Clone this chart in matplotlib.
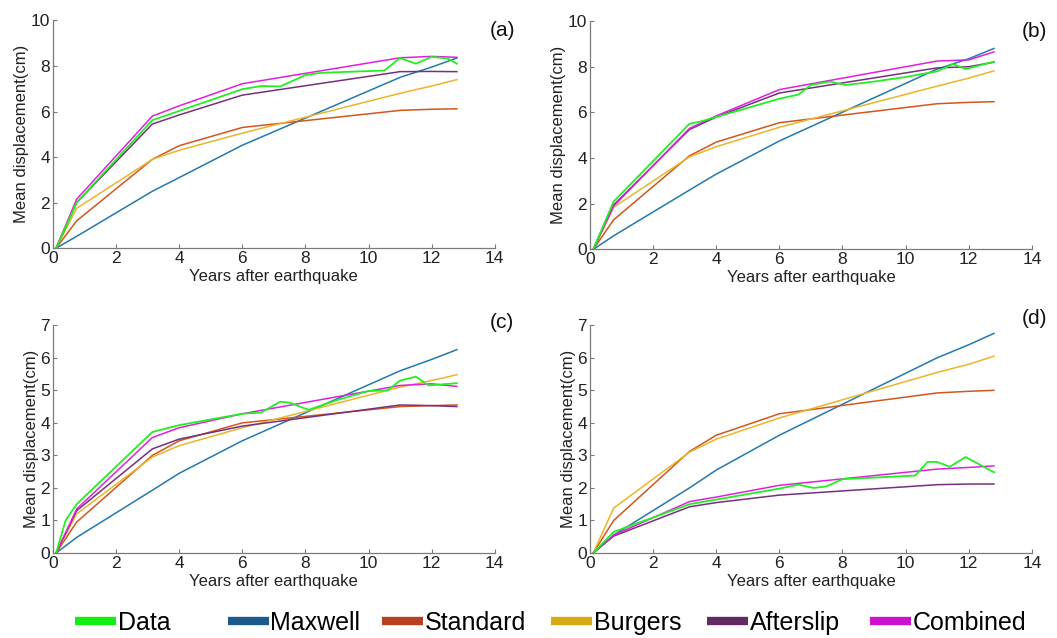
import matplotlib
matplotlib.use("Agg")
import matplotlib.pyplot as plt
from matplotlib.lines import Line2D

plt.rcParams['font.family'] = ['Liberation Sans', 'DejaVu Sans']

# Model evaluation epochs (years after the earthquake)
t_model = [0.1, 0.75, 3.15, 4.0, 6.0, 11.0, 12.0, 12.8]

series_names = ["Data", "Maxwell", "Standard", "Burgers", "Afterslip", "Combined"]
line_colors = {
    "Data": "#22ee22",
    "Maxwell": "#2378b0",
    "Standard": "#d2561f",
    "Burgers": "#eab52a",
    "Afterslip": "#77307f",
    "Combined": "#e020e0",
}
legend_colors = {
    "Data": "#11ee11",
    "Maxwell": "#1c5a8c",
    "Standard": "#b8401f",
    "Burgers": "#d6aa12",
    "Afterslip": "#612a62",
    "Combined": "#cc12cc",
}

# ---- panel (a) ----
a_data_t = [0.1, 0.75, 3.15, 6.0, 6.6, 7.2, 8.0, 8.5, 10.5, 11.0, 11.5, 12.0, 12.5, 12.8]
a_data = [0.0, 2.0, 5.62, 6.98, 7.12, 7.1, 7.6, 7.7, 7.8, 8.35, 8.1, 8.4, 8.33, 8.1]
a_maxwell = [0.0, 0.52, 2.5, 3.1, 4.52, 7.5, 7.95, 8.35]
a_standard = [0.0, 1.2, 3.9, 4.5, 5.3, 6.05, 6.1, 6.12]
a_burgers = [0.0, 1.75, 3.9, 4.3, 5.05, 6.8, 7.12, 7.4]
a_afterslip = [0.0, 2.0, 5.45, 5.85, 6.72, 7.75, 7.76, 7.75]
a_combined = [0.0, 2.15, 5.8, 6.25, 7.22, 8.36, 8.42, 8.38]

# ---- panel (b) ----
b_data_t = [0.1, 0.75, 3.15, 3.5, 6.0, 6.6, 7.0, 7.6, 8.1, 9.0, 10.0, 11.0, 11.5, 11.9, 12.8]
b_data = [0.0, 2.1, 5.5, 5.6, 6.6, 6.78, 7.2, 7.35, 7.2, 7.35, 7.55, 7.8, 8.12, 7.9, 8.22]
b_maxwell = [0.0, 0.6, 2.6, 3.3, 4.75, 7.9, 8.35, 8.8]
b_standard = [0.0, 1.3, 4.1, 4.7, 5.55, 6.38, 6.44, 6.47]
b_burgers = [0.0, 1.85, 4.05, 4.5, 5.35, 7.15, 7.5, 7.82]
b_afterslip = [0.0, 1.95, 5.25, 5.8, 6.85, 7.95, 8.0, 8.2]
b_combined = [0.0, 1.9, 5.3, 5.85, 7.0, 8.25, 8.3, 8.65]

# ---- panel (c) ----
c_data_t = [0.1, 0.4, 0.75, 3.15, 4.0, 6.0, 6.6, 7.2, 7.5, 8.1, 9.0, 10.0, 10.6, 11.0, 11.5, 11.9, 12.8]
c_data = [0.0, 1.0, 1.5, 3.72, 3.93, 4.28, 4.32, 4.65, 4.62, 4.4, 4.7, 4.98, 5.0, 5.3, 5.42, 5.15, 5.22]
c_maxwell = [0.0, 0.48, 1.93, 2.45, 3.45, 5.6, 5.95, 6.25]
c_standard = [0.0, 0.95, 3.0, 3.45, 4.0, 4.5, 4.53, 4.55]
c_burgers = [0.0, 1.2, 2.95, 3.3, 3.85, 5.1, 5.3, 5.48]
c_afterslip = [0.0, 1.3, 3.2, 3.5, 3.9, 4.55, 4.53, 4.5]
c_combined = [0.0, 1.35, 3.55, 3.85, 4.28, 5.15, 5.2, 5.12]

# ---- panel (d) ----
d_data_t = [0.1, 0.75, 3.15, 6.0, 6.6, 7.1, 7.5, 8.0, 10.3, 10.7, 11.0, 11.4, 11.9, 12.8]
d_data = [0.0, 0.65, 1.5, 1.98, 2.1, 2.0, 2.05, 2.27, 2.38, 2.8, 2.8, 2.65, 2.95, 2.48]
d_maxwell = [0.0, 0.55, 2.0, 2.55, 3.62, 6.0, 6.4, 6.75]
d_standard = [0.0, 1.0, 3.12, 3.62, 4.28, 4.92, 4.97, 5.0]
d_burgers = [0.0, 1.38, 3.1, 3.5, 4.15, 5.55, 5.8, 6.05]
d_afterslip = [0.0, 0.52, 1.42, 1.55, 1.78, 2.1, 2.12, 2.12]
d_combined = [0.0, 0.55, 1.58, 1.72, 2.08, 2.58, 2.63, 2.68]

panels = [
    ("(a)", 10, a_data_t, a_data, a_maxwell, a_standard, a_burgers, a_afterslip, a_combined),
    ("(b)", 10, b_data_t, b_data, b_maxwell, b_standard, b_burgers, b_afterslip, b_combined),
    ("(c)", 7, c_data_t, c_data, c_maxwell, c_standard, c_burgers, c_afterslip, c_combined),
    ("(d)", 7, d_data_t, d_data, d_maxwell, d_standard, d_burgers, d_afterslip, d_combined),
]

x_ticks = [0, 2, 4, 6, 8, 10, 12, 14]

fig = plt.figure(figsize=(10.57, 6.38), dpi=100)
axes_rects = [
    [0.0501, 0.611, 0.418, 0.357],
    [0.5582, 0.609, 0.418, 0.358],
    [0.0501, 0.1332, 0.418, 0.357],
    [0.5582, 0.1332, 0.418, 0.357],
]
# panel tag positions in axes fraction
tag_pos = [(1.018, 0.955), (1.005, 0.955), (1.015, 1.01), (1.005, 1.03)]

spine_gray = "#7a7a7a"
for rect, tp, (label, ymax, dt, dv, mx, st, bu, af, co) in zip(axes_rects, tag_pos, panels):
    ax = fig.add_axes(rect)
    ax.plot(t_model, mx, color=line_colors["Maxwell"], lw=1.1)
    ax.plot(t_model, st, color=line_colors["Standard"], lw=1.1)
    ax.plot(t_model, bu, color=line_colors["Burgers"], lw=1.1)
    ax.plot(t_model, af, color=line_colors["Afterslip"], lw=1.1)
    ax.plot(t_model, co, color=line_colors["Combined"], lw=1.1)
    ax.plot(dt, dv, color=line_colors["Data"], lw=1.3)

    ax.set_xlim(0, 14)
    ax.set_ylim(0, ymax)
    ax.set_xticks(x_ticks)
    ax.set_yticks(range(0, ymax + 1, 2 if ymax == 10 else 1))
    for s in ("top", "right"):
        ax.spines[s].set_visible(False)
    for s in ("left", "bottom"):
        ax.spines[s].set_color(spine_gray)
        ax.spines[s].set_linewidth(0.9)
    ax.tick_params(direction="in", length=3, width=0.8, color=spine_gray,
                   labelsize=12.5, labelcolor="#222222", pad=2)
    ax.set_xlabel("Years after earthquake", fontsize=12, color="#222222", labelpad=2)
    ax.set_ylabel("Mean displacement(cm)", fontsize=12, color="#222222", labelpad=1)
    ax.text(tp[0], tp[1], label, transform=ax.transAxes, fontsize=15,
            ha="center", va="center", color="#111111", clip_on=False)

# legend entries placed individually along the bottom row
legend_x = [75, 228, 382, 551, 707, 870]
for name, xp in zip(series_names, legend_x):
    h = Line2D([], [], color=legend_colors[name], lw=6, solid_capstyle="butt")
    fig.legend([h], [name], loc="center left", bbox_to_anchor=(xp / 1057, 0.024),
               frameon=False, handlelength=1.65, handletextpad=0.05,
               borderpad=0, borderaxespad=0,
               prop={"family": ["Liberation Sans Narrow", "Liberation Sans", "DejaVu Sans"], "size": 18})

fig.savefig("out.png", dpi=100)
